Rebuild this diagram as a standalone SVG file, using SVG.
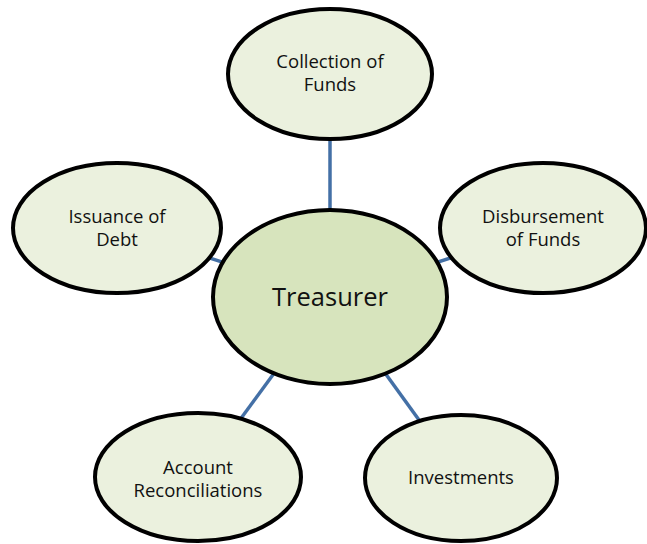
<svg xmlns="http://www.w3.org/2000/svg" width="647" height="544" viewBox="0 0 647 544">
  <style>
    .node { stroke: #000000; stroke-width: 4; }
    .outer { fill: #ebf1de; }
    .hub { fill: #d7e4bd; }
    .label { font-family: "Open Sans", "Liberation Sans", sans-serif; font-size: 18.5px; fill: #111111; text-anchor: middle; }
    .title { font-family: "Open Sans", "Liberation Sans", sans-serif; font-size: 25.5px; fill: #111111; text-anchor: middle; }
    .link { stroke: #4470a6; stroke-width: 3.5; fill: none; }
  </style>
  <rect width="647" height="544" fill="#ffffff"/>

  <!-- spokes from the hub to each duty -->
  <g id="connectors">
    <line class="link" x1="330" y1="297" x2="330" y2="74"/>
    <line class="link" x1="330" y1="297" x2="117" y2="228"/>
    <line class="link" x1="330" y1="297" x2="543" y2="228"/>
    <line class="link" x1="330" y1="297" x2="198" y2="477"/>
    <line class="link" x1="330" y1="297" x2="461" y2="478"/>
  </g>

  <g id="collection">
    <ellipse class="node outer" cx="330" cy="74" rx="102" ry="65"/>
    <text class="label" x="330" y="68">Collection of</text>
    <text class="label" x="330" y="91">Funds</text>
  </g>

  <g id="issuance">
    <ellipse class="node outer" cx="117" cy="228" rx="104" ry="65"/>
    <text class="label" x="117" y="223">Issuance of</text>
    <text class="label" x="117" y="246">Debt</text>
  </g>

  <g id="disbursement">
    <ellipse class="node outer" cx="543" cy="228" rx="103" ry="65"/>
    <text class="label" x="543" y="223">Disbursement</text>
    <text class="label" x="543" y="246">of Funds</text>
  </g>

  <g id="reconciliations">
    <ellipse class="node outer" cx="198" cy="477" rx="103" ry="64"/>
    <text class="label" x="198" y="474">Account</text>
    <text class="label" x="198" y="497">Reconciliations</text>
  </g>

  <g id="investments">
    <ellipse class="node outer" cx="461" cy="478" rx="96" ry="63"/>
    <text class="label" x="461" y="484">Investments</text>
  </g>

  <g id="treasurer">
    <ellipse class="node hub" cx="330" cy="297" rx="117" ry="87"/>
    <text class="title" x="330" y="306">Treasurer</text>
  </g>
</svg>
